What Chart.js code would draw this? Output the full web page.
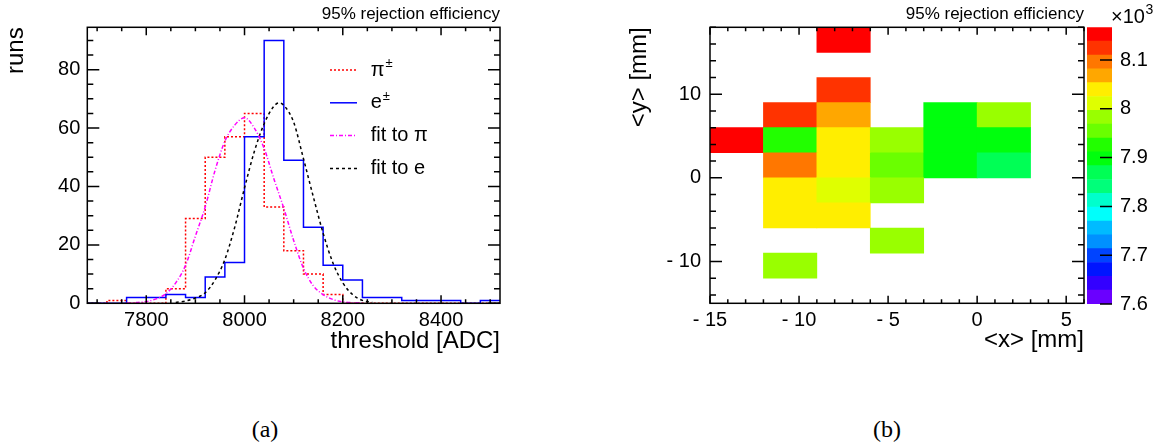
<!DOCTYPE html>
<html>
<head>
<meta charset="utf-8">
<script src="https://cdn.jsdelivr.net/npm/chart.js@4.4.1/dist/chart.umd.min.js"></script>
<style>
  html, body { margin: 0; padding: 0; background: #fff; }
  body { width: 1161px; height: 444px; position: relative; overflow: hidden; }
  canvas { position: absolute; top: 0; }
  #histo { left: 0; }
  #map { left: 600px; }
  #zbar { left: 1087px; }
  .caption { position: absolute; top: 416px; width: 60px; text-align: center; line-height: 30px;
             font: 24px "Liberation Serif", "DejaVu Serif", serif; color: #000; }
</style>
</head>
<body>
<canvas id="histo" width="560" height="380" style="width:560px;height:380px"></canvas>
<canvas id="map" width="487" height="380" style="width:487px;height:380px"></canvas>
<canvas id="zbar" width="74" height="380" style="width:74px;height:380px"></canvas>
<div class="caption" style="left:235px">(a)</div>
<div class="caption" style="left:857px">(b)</div>

<script>
// ---- panel (a): threshold histograms ----
const binLow = [7680, 7720, 7760, 7800, 7840, 7880, 7920, 7960, 8000, 8040, 8080,
                8120, 8160, 8200, 8240, 8280, 8320, 8360, 8400, 8440, 8480];
const binWidth = 40;
const pionRuns     = [0, 1, 0, 0, 5, 29, 50, 57, 65, 33, 18, 10, 3, 0, 0, 0, 0, 0, 0, 0, 0];
const electronRuns = [0, 0, 2, 2, 3, 2, 9, 14, 57, 90, 49, 26, 13, 8, 2, 2, 1, 1, 1, 0, 1];

// fitted curves
const pionFitX = [7760, 7780, 7800, 7820, 7840, 7860, 7880, 7900, 7920, 7940, 7960, 7980, 8000,
                  8020, 8040, 8060, 8080, 8100, 8120, 8140, 8160, 8180, 8200, 8220, 8240];
const pionFitY = [0.1, 0.25, 0.6, 1.5, 3.3, 7, 13, 23, 33, 45.5, 55.5, 61, 63.5,
                  60, 53, 42.5, 32.5, 21.5, 12, 6, 3, 1.3, 0.5, 0.2, 0.1];
const electronFitX = [7860, 7880, 7900, 7920, 7940, 7960, 7980, 8000, 8020, 8040, 8060, 8070,
                      8080, 8100, 8120, 8140, 8160, 8180, 8200, 8220, 8240, 8260];
const electronFitY = [0.3, 0.8, 1.8, 3.6, 8, 15, 26, 39.5, 52, 61.5, 67.5, 68.6,
                      67.8, 62, 49.5, 36.5, 24, 13.8, 7, 3, 1, 0.3];

const thresholdTicks = [7800, 8000, 8200, 8400];
const runsTicks = [0, 20, 40, 60, 80];

// ---- panel (b): threshold map, values in units of 10^3 ADC ----
const cellX = [-7.5, -7.5, -10.5, -7.5, -1.5, 1.5, -13.5, -10.5, -7.5, -4.5, -1.5, 1.5,
               -10.5, -7.5, -4.5, -1.5, 1.5, -10.5, -7.5, -4.5, -10.5, -7.5, -4.5, -10.5];
const cellY = [16.5, 10.5, 7.5, 7.5, 7.5, 7.5, 4.5, 4.5, 4.5, 4.5, 4.5, 4.5,
               1.5, 1.5, 1.5, 1.5, 1.5, -1.5, -1.5, -1.5, -4.5, -4.5, -7.5, -10.5];
const cellZ = [8.155, 8.125, 8.125, 8.07, 7.90, 7.983, 8.155, 7.926, 8.04, 7.983, 7.90, 7.90,
               8.096, 8.04, 7.954, 7.90, 7.869, 8.04, 8.011, 7.983, 8.04, 8.04, 7.983, 7.983];
const cellSize = 3;

const xMapTicks = [-15, -10, -5, 0, 5];
const yMapTicks = [-10, 0, 10];
const zTicks = [7.6, 7.7, 7.8, 7.9, 8, 8.1];
const zMin = 7.6, zMax = 8.167;
// ROOT rainbow palette, 20 contours, bottom to top
const paletteColors = ['#6a00ff', '#3300ff', '#0015ff', '#0044ff', '#0091ff', '#00bbff', '#00fffb',
                       '#00ffcc', '#00ff7a', '#00ff55', '#00ff0d', '#22ff00', '#6aff00', '#99ff00',
                       '#dfff00', '#ffee00', '#ffa700', '#ff7700', '#ff3300', '#ff0000'];

const FONT = '"Liberation Sans", Arimo, Arial, Helvetica, sans-serif';
Chart.defaults.font.family = FONT;
Chart.defaults.color = '#000';

const zStep = (zMax - zMin) / paletteColors.length;
const zLevels = [];
for (let k = 0; k <= paletteColors.length; k++) zLevels.push(zMin + k * zStep);

function zColor(z) {
  let k = Math.floor((z - zMin) / zStep);
  k = Math.max(0, Math.min(paletteColors.length - 1, k));
  return paletteColors[k];
}

function histoPoints(values) {
  const pts = binLow.map((x, i) => ({ x, y: values[i] }));
  pts.push({ x: binLow[binLow.length - 1] + binWidth, y: values[values.length - 1] });
  return pts;
}
function curvePoints(xs, ys) {
  return xs.map((x, i) => ({ x, y: ys[i] }));
}
function minorValues(min, max, step) {
  const out = [];
  for (let v = Math.ceil(min / step - 1e-9) * step; v <= max + 1e-9; v += step) out.push(v);
  return out;
}

// frame with inward ticks on all sides, like ROOT
const rootFrame = {
  id: 'rootFrame',
  afterDraw(chart, args, opts) {
    const { ctx, chartArea: a } = chart;
    ctx.save();
    ctx.strokeStyle = '#000';
    ctx.lineWidth = opts.lineWidth || 1.5;
    ctx.beginPath();
    (opts.axes || []).forEach(ax => {
      const s = chart.scales[ax.id];
      const marks = ax.major.map(v => [v, ax.majorLen]);
      if (ax.minorStep) minorValues(s.min, s.max, ax.minorStep).forEach(v => marks.push([v, ax.minorLen]));
      marks.forEach(([v, len]) => {
        const p = s.getPixelForValue(v);
        if (s.isHorizontal()) {
          if (ax.sides.includes('bottom')) { ctx.moveTo(p, a.bottom); ctx.lineTo(p, a.bottom - len); }
          if (ax.sides.includes('top')) { ctx.moveTo(p, a.top); ctx.lineTo(p, a.top + len); }
        } else {
          if (ax.sides.includes('left')) { ctx.moveTo(a.left, p); ctx.lineTo(a.left + len, p); }
          if (ax.sides.includes('right')) { ctx.moveTo(a.right, p); ctx.lineTo(a.right - len, p); }
        }
      });
    });
    ctx.stroke();
    if (opts.frame) ctx.strokeRect(a.left, a.top, a.right - a.left, a.bottom - a.top);
    ctx.restore();
  }
};

const rootLegend = {
  id: 'rootLegend',
  afterDraw(chart, args, opts) {
    if (!opts.display) return;
    const { ctx } = chart;
    ctx.save();
    chart.data.datasets.forEach((ds, i) => {
      const y = opts.y + i * opts.rowGap;
      ctx.strokeStyle = ds.borderColor;
      ctx.lineWidth = ds.borderWidth;
      ctx.setLineDash(ds.borderDash || []);
      ctx.beginPath();
      ctx.moveTo(opts.x, y);
      ctx.lineTo(opts.x + opts.lineLength, y);
      ctx.stroke();
      ctx.setLineDash([]);
      ctx.fillStyle = '#000';
      ctx.textAlign = 'left';
      ctx.textBaseline = 'middle';
      ctx.font = opts.size + 'px ' + FONT;
      let text = ds.label, sup = '';
      if (text.endsWith('±')) { sup = '±'; text = text.slice(0, -1); }
      ctx.fillText(text, opts.textX, y);
      if (sup) {
        const w = ctx.measureText(text).width;
        ctx.font = Math.round(opts.size * 0.65) + 'px ' + FONT;
        ctx.fillText(sup, opts.textX + w + 1, y - opts.size * 0.33);
      }
    });
    ctx.restore();
  }
};

const exponentLabel = {
  id: 'exponentLabel',
  afterDraw(chart, args, opts) {
    if (!opts.display) return;
    const { ctx } = chart;
    ctx.save();
    ctx.fillStyle = '#000';
    ctx.textAlign = 'left';
    ctx.textBaseline = 'alphabetic';
    ctx.font = '20px ' + FONT;
    ctx.fillText('×10', opts.x, opts.y);
    const w = ctx.measureText('×10').width;
    ctx.font = '14px ' + FONT;
    ctx.fillText('3', opts.x + w + 0.5, opts.y - 9);
    ctx.restore();
  }
};

Chart.register(rootFrame, rootLegend, exponentLabel);

const topTitle = {
  display: true, text: '95% rejection efficiency', align: 'end', color: '#000',
  font: { size: 17, weight: 'normal' }, padding: { top: 3.8, bottom: 3.1 }
};
const flat = { grid: { display: false, drawTicks: false }, border: { display: false } };

// ---------- (a) ----------
new Chart(document.getElementById('histo'), {
  type: 'line',
  data: {
    datasets: [
      { label: 'π±', data: histoPoints(pionRuns), stepped: 'before', borderColor: '#ff0000',
        borderWidth: 1.5, borderDash: [2, 2], pointRadius: 0, fill: false, order: 2 },
      { label: 'e±', data: histoPoints(electronRuns), stepped: 'before', borderColor: '#0000ff',
        borderWidth: 1.5, pointRadius: 0, fill: false, order: 1 },
      { label: 'fit to π', data: curvePoints(pionFitX, pionFitY), borderColor: '#ff00ff',
        borderWidth: 1.5, borderDash: [4, 2, 1, 2], cubicInterpolationMode: 'monotone',
        pointRadius: 0, fill: false, order: 0 },
      { label: 'fit to e', data: curvePoints(electronFitX, electronFitY), borderColor: '#000000',
        borderWidth: 1.5, borderDash: [3, 3], cubicInterpolationMode: 'monotone',
        pointRadius: 0, fill: false, order: 0 }
    ]
  },
  options: {
    responsive: false, animation: false, events: [],
    layout: { padding: { left: 0, top: 0, right: 60, bottom: 0 } },
    plugins: {
      legend: { display: false }, tooltip: { enabled: false },
      title: topTitle,
      rootFrame: {
        frame: true, lineWidth: 1.5,
        axes: [
          { id: 'x', major: thresholdTicks, minorStep: 50, majorLen: 8, minorLen: 4, sides: ['bottom', 'top'] },
          { id: 'y', major: runsTicks, minorStep: 5, majorLen: 12, minorLen: 6, sides: ['left', 'right'] }
        ]
      },
      rootLegend: { display: true, x: 330, y: 70, rowGap: 32.8, lineLength: 27, textX: 370.7, size: 20 }
    },
    scales: {
      x: {
        type: 'linear', min: 7680, max: 8520, ...flat,
        afterBuildTicks: s => { s.ticks = thresholdTicks.map(v => ({ value: v })); },
        afterFit: s => { s.height = 76.7; },
        ticks: { font: { size: 20 }, padding: 5.2, maxRotation: 0, autoSkip: false, callback: v => String(v) },
        title: { display: true, text: 'threshold [ADC]', align: 'end', font: { size: 24 }, padding: { top: 0, bottom: 23.9 } }
      },
      y: {
        type: 'linear', min: 0, max: 94.5, ...flat,
        afterBuildTicks: s => { s.ticks = runsTicks.map(v => ({ value: v })); },
        afterFit: s => { s.width = 87.3; },
        ticks: { font: { size: 20 }, padding: 7, autoSkip: false, callback: v => String(v) },
        title: { display: true, text: 'runs', align: 'end', font: { size: 24 }, padding: { top: 2.3, bottom: 0 } }
      }
    }
  }
});

// ---------- (b) ----------
const signed = v => (v < 0 ? '- ' + Math.abs(v) : String(v));

new Chart(document.getElementById('map'), {
  type: 'bar',
  data: {
    datasets: [{
      data: cellX.map((x, i) => ({ x, y: [cellY[i] - cellSize / 2, cellY[i] + cellSize / 2] })),
      backgroundColor: cellZ.map(zColor),
      borderWidth: 0, categoryPercentage: 1, barPercentage: 1
    }]
  },
  options: {
    responsive: false, animation: false, events: [],
    layout: { padding: { left: 0, top: 0, right: 3, bottom: 0 } },
    plugins: {
      legend: { display: false }, tooltip: { enabled: false },
      title: topTitle,
      rootFrame: {
        frame: true, lineWidth: 1.5,
        axes: [
          { id: 'x', major: xMapTicks, minorStep: 1, majorLen: 7.5, minorLen: 4, sides: ['bottom', 'top'] },
          { id: 'y', major: yMapTicks, minorStep: 2, majorLen: 12, minorLen: 6, sides: ['left', 'right'] }
        ]
      }
    },
    scales: {
      x: {
        type: 'linear', min: -15, max: 6, offset: false, ...flat,
        afterBuildTicks: s => { s.ticks = xMapTicks.map(v => ({ value: v })); },
        afterFit: s => { s.height = 76.7; },
        ticks: { font: { size: 20 }, padding: 5.2, maxRotation: 0, autoSkip: false, callback: signed },
        title: { display: true, text: '<x> [mm]', align: 'end', font: { size: 24 }, padding: { top: 0, bottom: 25.5 } }
      },
      y: {
        type: 'linear', min: -15, max: 18, ...flat,
        afterBuildTicks: s => { s.ticks = yMapTicks.map(v => ({ value: v })); },
        afterFit: s => { s.width = 110; },
        ticks: { font: { size: 20 }, padding: 9, autoSkip: false, callback: signed },
        title: { display: true, text: '<y> [mm]', align: 'end', font: { size: 24 }, padding: { top: 24.8, bottom: 0 } }
      }
    }
  }
});

// colour scale
new Chart(document.getElementById('zbar'), {
  type: 'bar',
  data: {
    labels: ['z'],
    datasets: paletteColors.map((c, k) => ({
      data: [[zLevels[k], zLevels[k + 1]]], backgroundColor: c, borderWidth: 0,
      grouped: false, categoryPercentage: 1, barPercentage: 1
    }))
  },
  options: {
    responsive: false, animation: false, events: [],
    layout: { padding: { left: 0, top: 27.3, right: 0, bottom: 76 } },
    plugins: {
      legend: { display: false }, tooltip: { enabled: false },
      rootFrame: {
        frame: false, lineWidth: 1.5,
        axes: [{ id: 'y', major: zTicks, minorStep: 0, majorLen: 12, minorLen: 0, sides: ['right'] }]
      },
      exponentLabel: { display: true, x: 24, y: 23 }
    },
    scales: {
      x: { display: false },
      y: {
        position: 'right', min: zMin, max: zMax, ...flat,
        afterBuildTicks: s => { s.ticks = zTicks.map(v => ({ value: v })); },
        afterFit: s => { s.width = 49; },
        ticks: { font: { size: 20 }, padding: 8, autoSkip: false, callback: v => String(v) }
      }
    }
  }
});
</script>
</body>
</html>
